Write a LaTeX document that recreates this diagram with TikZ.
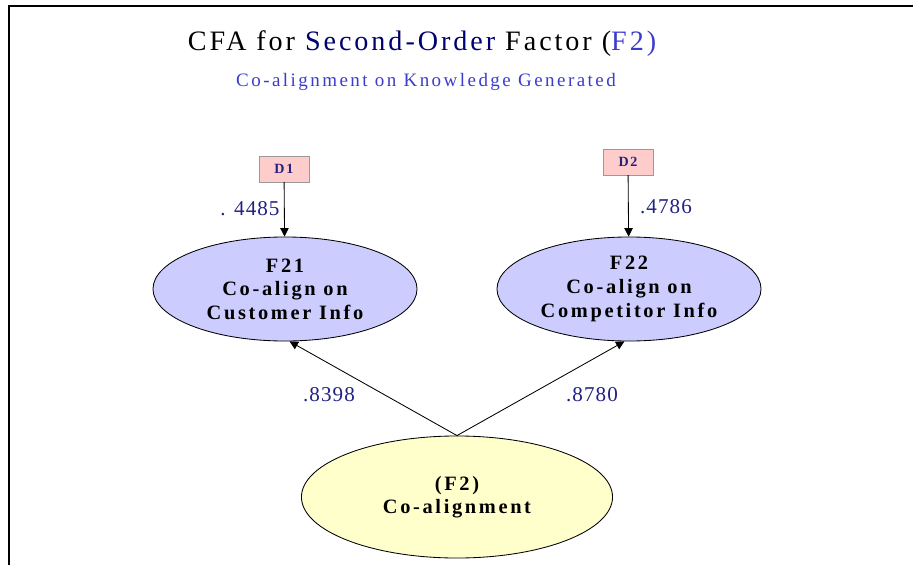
\documentclass[tikz,border=0pt]{standalone}
\usepackage{fontspec}
\setmainfont{Liberation Serif}
\newfontfamily\titlefont[LetterSpace=10.5]{Liberation Serif}
\newfontfamily\subtitlefont[LetterSpace=13]{Liberation Serif}
\newfontfamily\factorfont[LetterSpace=13]{Liberation Serif}
\newfontfamily\loadfont[LetterSpace=5]{Liberation Serif}
\usetikzlibrary{arrows.meta, shapes.geometric}
\definecolor{factorBlue}{RGB}{204, 204, 255}
\definecolor{rootYellow}{RGB}{255, 255, 204}
\definecolor{errPink}{RGB}{255, 204, 204}
\definecolor{loadNavy}{RGB}{34, 34, 128}
\definecolor{titleNavy}{RGB}{0, 0, 110}
\definecolor{titleBlue}{RGB}{60, 60, 204}
\tikzset{
    % Latent factor ellipses
    factor/.style={
        ellipse,
        draw=black,
        line width=0.6pt,
        inner sep=0pt,
        align=center,
        font=\factorfont\bfseries\fontsize{14.5}{16.8}\selectfont
    },
    firstOrder/.style={factor, fill=factorBlue, minimum width=6.6cm, minimum height=2.6cm},
    secondOrder/.style={factor, fill=rootYellow, minimum width=7.775cm, minimum height=3.05cm},
    % Disturbance boxes
    disturb/.style={
        rectangle,
        draw=gray!80,
        fill=errPink,
        minimum width=1.25cm,
        minimum height=0.64cm,
        text=loadNavy,
        font=\factorfont\bfseries\fontsize{10}{11}\selectfont
    },
    % Arrow & Label Styles
    arrow/.style={-{Triangle[length=6pt, width=6pt]}, line width=0.6pt, draw=black},
    loading/.style={anchor=base, text=loadNavy, font=\loadfont\fontsize{15}{17}\selectfont},
    frameLine/.style={line width=1.4pt, draw=black}
}

\begin{document}
\begin{tikzpicture}[x=0.025cm, y=-0.025cm]

    \useasboundingbox (0,0) rectangle (913,565);

    % --- FRAME (top and left edges only) ---
    \draw [frameLine] (8,6) -- (913,6);
    \draw [frameLine] (9,6) -- (9,565);

    % --- TITLE ---
    \node (title) [anchor=base, font=\titlefont\fontsize{20}{24}\selectfont] at (422,51)
        {CFA for \textcolor{titleNavy}{Second-Order} Factor (\textcolor{titleBlue}{F2)}};
    \node (subtitle) [anchor=base, text=titleBlue, font=\subtitlefont\fontsize{13.5}{16}\selectfont] at (426,87)
        {Co-alignment on Knowledge Generated};

    % --- DISTURBANCES ---
    \node (d1) [disturb] at (284,169) {D1};
    \node (d2) [disturb] at (628,162) {D2};

    % --- FIRST-ORDER FACTORS ---
    \node (f21) [firstOrder] at (285,289) {F21\\Co-align on\\Customer Info};
    \node (f22) [firstOrder] at (629,289) {F22\\Co-align on\\Competitor Info};

    % --- SECOND-ORDER FACTOR ---
    \node (f2) [secondOrder] at (457,497) {(F2)\\Co-alignment};

    % --- Arrows ---
    \draw [arrow] (d1) -- (f21);
    \draw [arrow] (d2) -- (f22);
    \draw [arrow] (f2.north) -- (f21.-85);
    \draw [arrow] (f2.north) -- (f22.-95);

    % --- Loadings ---
    \node (w1) [loading] at (250,215) {. 4485};
    \node (w2) [loading] at (666,213) {.4786};
    \node (w3) [loading] at (329,401) {.8398};
    \node (w4) [loading] at (592,401) {.8780};

\end{tikzpicture}
\end{document}
